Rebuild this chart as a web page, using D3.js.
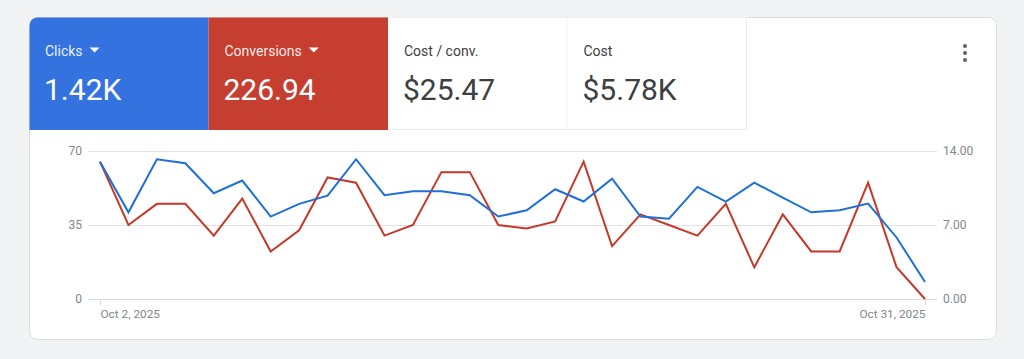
<!DOCTYPE html>
<html><head><meta charset="utf-8">
<script src="https://cdn.jsdelivr.net/npm/d3@7"></script>
<style>
html,body{margin:0;padding:0;background:#f1f3f4;}
svg{display:block;font-family:Roboto,"Noto Sans",Arial,sans-serif;}
</style></head>
<body><svg id="c" width="1024" height="359"></svg>
<script>
const dates = d3.range(2, 32).map(d => new Date(2025, 9, d));
const clicks = [64.9,41,66.1,64.2,50,56,39,45,48.9,66.1,49.1,51,51,49.1,39,42,51.9,46.1,56.9,39,38,53,46.1,55,48,41,42,45.1,29.1,8];
const conversions = [13,7,9,9,6,9.5,4.5,6.5,11.5,11,6,7,12,12,7,6.67,7.33,13,5,8,7,6,9,3,8,4.5,4.5,11,3,0];
const leftTicks = [0,35,70];
const rightTicks = [0,7,14];
const tiles = [
  {label:"Clicks", value:"1.42K", bg:"#3473df", fg:"#ffffff", arrow:true},
  {label:"Conversions", value:"226.94", bg:"#c53e2f", fg:"#ffffff", arrow:true},
  {label:"Cost / conv.", value:"$25.47", bg:"#ffffff", fg:"#3c4043", arrow:false},
  {label:"Cost", value:"$5.78K", bg:"#ffffff", fg:"#3c4043", arrow:false}
];
const xLabels = ["Oct 2, 2025","Oct 31, 2025"];

const svg = d3.select("#c");
svg.append("rect").attr("x",29.5).attr("y",17.5).attr("width",967).attr("height",322).attr("rx",8)
  .attr("fill","#fff").attr("stroke","#dadce0");
const clipId="cardclip";
svg.append("clipPath").attr("id",clipId).append("rect").attr("x",29.5).attr("y",17.5).attr("width",967).attr("height",322).attr("rx",8);
const tg = svg.append("g").attr("clip-path",`url(#${clipId})`);
const tileW = 179.5, tileX0 = 29, tileY0 = 17, tileH = 113;
tiles.forEach((t,i)=>{
  const x = tileX0 + i*tileW;
  tg.append("rect").attr("x",x).attr("y",tileY0).attr("width",tileW).attr("height",tileH).attr("fill",t.bg);
  if(t.bg==="#ffffff"){
    tg.append("line").attr("x1",x+tileW-0.5).attr("x2",x+tileW-0.5).attr("y1",tileY0).attr("y2",tileY0+tileH).attr("stroke","#e8eaed");
    tg.append("line").attr("x1",x).attr("x2",x+tileW).attr("y1",tileY0+tileH-0.5).attr("y2",tileY0+tileH-0.5).attr("stroke","#e8eaed");
  }
  const lab = tg.append("text").attr("x",x+16).attr("y",56).attr("font-size",14).attr("fill",t.bg==="#ffffff"?"#3c4043":"rgba(255,255,255,0.92)").text(t.label);
  if(t.arrow){
    const w = lab.node().getComputedTextLength();
    const ax = x+16+w+7;
    tg.append("path").attr("d",`M${ax},47.5 L${ax+10},47.5 L${ax+5},52.5 Z`).attr("fill","#fff");
  }
  tg.append("text").attr("x",x+15).attr("y",100).attr("font-size",30).attr("fill",t.fg).text(t.value);
});
[46,53,60].forEach(cy=>svg.append("circle").attr("cx",965).attr("cy",cy).attr("r",2).attr("fill","#5f6368"));

const x = d3.scaleTime().domain([dates[0], dates[dates.length-1]]).range([100,925]);
const yL = d3.scaleLinear().domain([0,70]).range([299,151]);
const yR = d3.scaleLinear().domain([0,14]).range([299,151]);

const grid = svg.append("g");
grid.selectAll("line").data(leftTicks).join("line")
  .attr("x1",88).attr("x2",937).attr("y1",d=>yL(d)+0.5).attr("y2",d=>yL(d)+0.5)
  .attr("stroke",d=>d===0?"#dadce0":"#e3e3e3");

const axL = svg.append("g").attr("transform","translate(88,0)")
  .call(d3.axisLeft(yL).tickValues(leftTicks).tickSize(0).tickPadding(6).tickFormat(d3.format("d")));
const axR = svg.append("g").attr("transform","translate(937,0)")
  .call(d3.axisRight(yR).tickValues(rightTicks).tickSize(0).tickPadding(6).tickFormat(d3.format(".2f")));
[axL,axR].forEach(a=>{
  a.select(".domain").remove();
  a.selectAll("text").attr("fill","#80868b").attr("font-size",12).attr("font-family","Roboto,sans-serif");
});

const axB = svg.append("g").attr("transform","translate(0,299)")
  .call(d3.axisBottom(x).tickValues([dates[0], dates[dates.length-1]]).tickSize(6).tickPadding(5)
    .tickFormat((d,i)=>xLabels[i]));
axB.select(".domain").remove();
axB.selectAll("line").attr("stroke","#dadce0");
axB.selectAll("text").attr("fill","#80868b").attr("font-size",11.8).attr("font-family","Roboto,sans-serif")
  .attr("text-anchor",(d,i)=>i===0?"start":"end");

const lineL = d3.line().x((d,i)=>x(dates[i])).y(d=>yL(d));
const lineR = d3.line().x((d,i)=>x(dates[i])).y(d=>yR(d));
svg.append("path").datum(conversions).attr("d",lineR).attr("fill","none").attr("stroke","#c5392a").attr("stroke-width",2);
svg.append("path").datum(clicks).attr("d",lineL).attr("fill","none").attr("stroke","#1e6fd9").attr("stroke-width",2);
</script></body></html>
